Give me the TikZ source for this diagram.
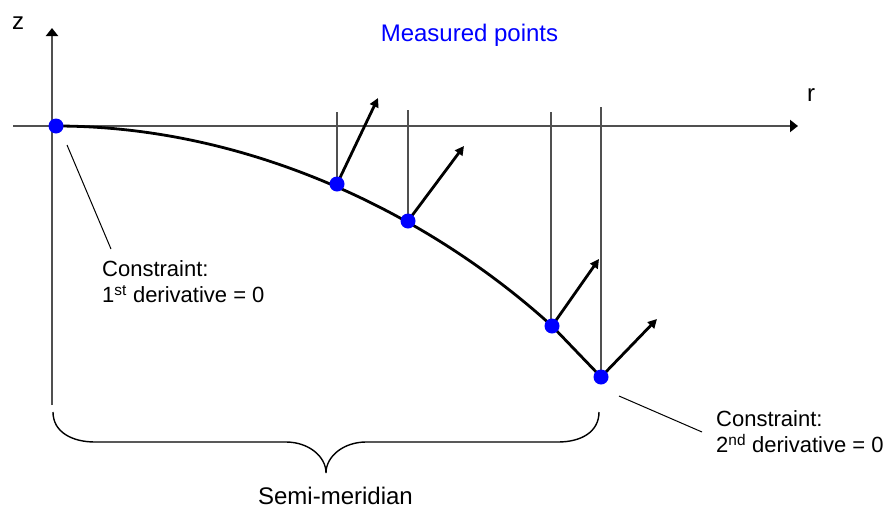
\documentclass[tikz,border=0pt]{standalone}
\usepackage{fontspec}
\setmainfont{Liberation Sans}
\usetikzlibrary{arrows.meta}
\definecolor{axisgray}{HTML}{505050}
\definecolor{ptblue}{HTML}{0000FF}
\tikzset{
  axisline/.style={draw=axisgray, line width=2pt, -{Triangle[length=8pt,width=12pt,fill=black,color=black]}},
  vline/.style={draw=axisgray, line width=1.5pt},
  normal/.style={draw=black, line width=2.8pt, -{Triangle[length=9pt,width=9pt]}},
  meridian/.style={draw=black, line width=2.8pt},
  leader/.style={draw=black, line width=1pt},
  bracestyle/.style={draw=black, line width=1.4pt},
  pt/.style={circle, fill=ptblue, minimum size=15pt, inner sep=0pt},
  lbl/.style={font=\fontsize{22}{26.5}\selectfont, inner sep=0pt, align=left},
  biglbl/.style={font=\fontsize{24}{28}\selectfont, inner sep=0pt}
}
\begin{document}
\begin{tikzpicture}[x=1pt, y=-1pt]
\useasboundingbox (0,0) rectangle (889,509);
% axes
\coordinate (zb) at (52,405);
\coordinate (zt) at (52,28);
\coordinate (rl) at (13,126);
\coordinate (rr) at (798,126);
\draw[axisline] (zb) -- (zt);
\draw[axisline] (rl) -- (rr);
\node[biglbl, anchor=base west] (zlab) at (12,29) {z};
\node[biglbl, anchor=base west] (rlab) at (807,101) {r};
% points
\coordinate (c0) at (56,126);
\coordinate (c1) at (337,184);
\coordinate (c2) at (408,221);
\coordinate (c3) at (552,326);
\coordinate (c4) at (601,377);
% vertical lines
\coordinate (v1) at (337,112);
\coordinate (v2) at (408,110);
\coordinate (v3) at (551,112);
\coordinate (v4) at (601,107);
\draw[vline] (c1) -- (v1);
\draw[vline] (c2) -- (v2);
\draw[vline] (551,326) -- (v3);
\draw[vline] (c4) -- (v4);
% normals
\coordinate (n1) at (378,98);
\coordinate (n2) at (464,146);
\coordinate (n3) at (599,259);
\coordinate (n4) at (657,319);
\draw[normal] (c1) -- (n1);
\draw[normal] (c2) -- (n2);
\draw[normal] (c3) -- (n3);
\draw[normal] (c4) -- (n4);
% meridian curve
\draw[meridian] (c0) .. controls (250,126) and (430,215) .. (c3) -- (c4);
% dots
\node[pt] (p0) at (c0) {};
\node[pt] (p1) at (c1) {};
\node[pt] (p2) at (c2) {};
\node[pt] (p3) at (c3) {};
\node[pt] (p4) at (c4) {};
% title
\node[biglbl, anchor=base, text=ptblue] (title) at (469.5,41) {Measured points};
% constraint labels
\node[lbl, anchor=north west] (con1) at (102,260) {Constraint:\\1\textsuperscript{st} derivative = 0};
\node[lbl, anchor=north west] (con2) at (716,410) {Constraint:\\2\textsuperscript{nd} derivative = 0};
\coordinate (l1a) at (67,145);
\coordinate (l1b) at (111,249);
\coordinate (l2a) at (619,396);
\coordinate (l2b) at (702,432);
\draw[leader] (l1a) -- (l1b);
\draw[leader] (l2a) -- (l2b);
% brace
\draw[bracestyle] (53,412) .. controls (53,432) and (72,442) .. (95,442)
  -- (286,442) .. controls (308,442) and (326,456) .. (326,473)
  .. controls (326,456) and (344,442) .. (366,442)
  -- (558,442) .. controls (581,442) and (599,432) .. (599,412);
\node[biglbl, anchor=base] (semi) at (335.5,504) {Semi-meridian};
\end{tikzpicture}
\end{document}
